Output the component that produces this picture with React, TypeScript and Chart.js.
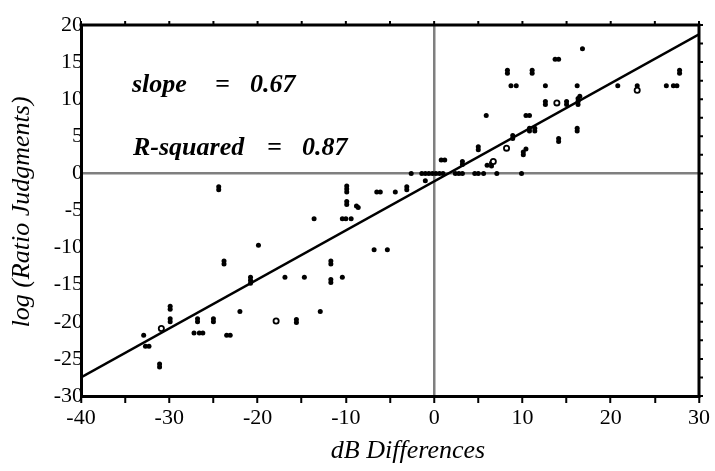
import React, { useEffect, useRef } from 'react';
import { Chart, registerables } from 'chart.js';

Chart.register(...registerables);

// ---- data ----
const xRange = [-40, 30];
const yRange = [-30, 20];
const xTopTicks = [-40, -35, -30, -25, -20, -15, -10, -5, 0, 5, 10, 15, 20, 25, 30];
const yRightTicks = [-30, -27.5, -25, -22.5, -20, -17.5, -15, -12.5, -10, -7.5, -5, -2.5, 0, 2.5, 5, 7.5, 10, 12.5, 15, 17.5, 20];

const lowerLeftPoints: [number, number][] = [
  [-32.9, -21.8],
  [-32.7, -23.3], [-32.3, -23.3],
  [-31.1, -25.7], [-31.1, -26.1],
  [-29.9, -17.9], [-29.9, -18.3],
  [-29.9, -19.6], [-29.9, -20.0],
  [-27.2, -21.5],
  [-26.8, -19.6], [-26.8, -20.0],
  [-26.6, -21.5], [-26.2, -21.5],
  [-25.0, -19.6], [-25.0, -20.0],
  [-23.8, -11.8], [-23.8, -12.2],
  [-23.5, -21.8], [-23.1, -21.8],
  [-22.0, -18.6],
  [-20.8, -14.0], [-20.8, -14.4], [-20.8, -14.8],
  [-19.9, -9.7],
  [-16.9, -14.0],
  [-15.6, -19.7], [-15.6, -20.1],
  [-14.7, -14.0],
  [-12.9, -18.6],
  [-11.7, -11.8], [-11.7, -12.2],
  [-11.7, -14.3], [-11.7, -14.7],
  [-10.4, -14.0],
  [-24.4, -1.8], [-24.4, -2.2],
];

const middlePoints: [number, number][] = [
  [-9.9, -1.7], [-9.9, -2.1], [-9.9, -2.5],
  [-9.9, -3.8], [-9.9, -4.2],
  [-8.8, -4.4], [-8.6, -4.6],
  [-13.6, -6.1],
  [-10.4, -6.1], [-10.0, -6.1], [-9.4, -6.1],
  [-6.8, -10.3], [-5.3, -10.3],
  [-6.5, -2.5], [-6.1, -2.5],
  [-4.4, -2.5],
  [-3.1, -1.8], [-3.1, -2.2],
  [-2.6, 0],
  [-1.0, -1.0],
  [-1.4, 0], [-1.0, 0], [-0.6, 0], [-0.2, 0], [0.2, 0], [0.6, 0], [1.0, 0],
  [0.8, 1.8], [1.2, 1.8],
  [2.4, 0], [2.8, 0], [3.2, 0],
  [3.2, 1.2], [3.2, 1.6],
  [4.6, 0], [5.0, 0],
  [5.6, 0],
  [7.1, 0],
  [9.9, 0],
  [5.0, 3.2], [5.0, 3.6],
  [5.9, 7.8],
  [6.0, 1.1],
  [6.5, 1.0], [6.5, 1.4],
  [8.9, 4.7], [8.9, 5.1],
  [10.1, 2.5], [10.1, 2.9], [10.4, 3.3],
  [10.4, 7.8], [10.8, 7.8],
  [10.8, 5.7], [10.8, 6.1], [11.4, 5.7], [11.4, 6.1],
];

const upperRightPoints: [number, number][] = [
  [16.8, 16.8],
  [13.7, 15.4], [14.1, 15.4],
  [8.3, 13.5], [8.3, 13.9],
  [11.1, 13.5], [11.1, 13.9],
  [8.7, 11.8], [9.3, 11.8],
  [12.6, 11.8],
  [16.2, 11.8],
  [20.8, 11.8],
  [23.0, 11.8],
  [26.3, 11.8],
  [27.1, 11.8], [27.5, 11.8],
  [27.8, 13.5], [27.8, 13.9],
  [12.6, 9.3], [12.6, 9.7],
  [15.0, 9.3], [15.0, 9.7],
  [16.3, 9.3], [16.3, 9.7], [16.3, 10.1], [16.5, 10.4],
  [16.2, 5.7], [16.2, 6.1],
  [14.1, 4.3], [14.1, 4.7],
];

const openPoints: [number, number][] = [
  [-30.9, -20.9],
  [-17.9, -19.9],
  [6.7, 1.6],
  [8.2, 3.4],
  [13.9, 9.5],
  [23.0, 11.2],
];

const fitLineX = [-40, 30];
const fitLineY = [-27.5, 18.75];

const slopeLabel = ['slope', '=', '0.67'];
const rSquaredLabel = ['R-squared', '=', '0.87'];
const xTitle = 'dB Differences';
const yTitle = 'log (Ratio Judgments)';

const SERIF = "'Liberation Serif', 'Times New Roman', serif";

const toXY = (arr: [number, number][]) => arr.map(([x, y]) => ({ x, y }));

const framePlugin = {
  id: 'frame',
  afterDatasetsDraw(chart: any) {
    const { ctx, chartArea, scales } = chart;
    const { left, right, top, bottom } = chartArea;
    const xs = scales.x;
    const ys = scales.y;
    ctx.save();
    ctx.strokeStyle = '#000';
    ctx.lineWidth = 3;
    ctx.beginPath();
    ctx.moveTo(left - 1.5, top);
    ctx.lineTo(right + 1.5, top);
    ctx.moveTo(right, top);
    ctx.lineTo(right, bottom + 1.5);
    ctx.stroke();

    ctx.lineWidth = 2;
    ctx.beginPath();
    xTopTicks.forEach((v) => {
      const px = xs.getPixelForValue(v);
      ctx.moveTo(px, top);
      ctx.lineTo(px, top - 4);
    });
    yRightTicks.forEach((v) => {
      const py = ys.getPixelForValue(v);
      ctx.moveTo(right, py);
      ctx.lineTo(right + 4, py);
    });
    ctx.stroke();

    // annotations
    ctx.fillStyle = '#000';
    ctx.font = `italic bold 26px ${SERIF}`;
    ctx.textBaseline = 'alphabetic';
    ctx.textAlign = 'left';
    ctx.fillText(slopeLabel[0], 132, 92);
    ctx.fillText(slopeLabel[1], 215, 92);
    ctx.fillText(slopeLabel[2], 250, 92);
    ctx.fillText(rSquaredLabel[0], 133, 155);
    ctx.fillText(rSquaredLabel[1], 267, 155);
    ctx.fillText(rSquaredLabel[2], 302, 155);

    // axis titles
    ctx.font = `italic 26px ${SERIF}`;
    ctx.textAlign = 'center';
    ctx.fillText(xTitle, 408, 458);
    ctx.save();
    ctx.translate(28.5, 212);
    ctx.rotate(-Math.PI / 2);
    ctx.fillText(yTitle, 0, 0);
    ctx.restore();
    ctx.restore();
  },
};

export default function App() {
  const ref = useRef<HTMLCanvasElement | null>(null);
  useEffect(() => {
    if (!ref.current) return;
    const zeroGrid = (c: any) => (c.tick && c.tick.value === 0 ? '#7f7f7f' : 'rgba(0,0,0,0)');
    const chart = new Chart(ref.current, {
      type: 'scatter',
      data: {
        datasets: [
          {
            type: 'line',
            data: fitLineX.map((x, i) => ({ x, y: fitLineY[i] })),
            borderColor: '#000',
            borderWidth: 2.5,
            pointRadius: 0,
            fill: false,
            order: 2,
          } as any,
          {
            data: toXY([...lowerLeftPoints, ...middlePoints, ...upperRightPoints]),
            backgroundColor: '#000',
            borderWidth: 0,
            pointRadius: 2.5,
            order: 1,
          },
          {
            data: toXY(openPoints),
            backgroundColor: '#fff',
            borderColor: '#000',
            borderWidth: 1.8,
            pointRadius: 2.6,
            order: 0,
          },
        ],
      },
      options: {
        responsive: false,
        animation: false,
        events: [],
        layout: { padding: { left: 0, top: 25, right: 16, bottom: 0 } },
        plugins: { legend: { display: false }, tooltip: { enabled: false } },
        scales: {
          x: {
            type: 'linear',
            min: xRange[0],
            max: xRange[1],
            afterFit: (s: any) => { s.height = 75; },
            border: { color: '#000', width: 3 },
            grid: {
              color: zeroGrid,
              lineWidth: 2.5,
              tickColor: '#000',
              tickWidth: 2,
              tickLength: 7,
            },
            ticks: {
              stepSize: 5,
              autoSkip: false,
              maxRotation: 0,
              padding: 2,
              color: '#000',
              font: { family: SERIF, size: 22 },
              callback: (v: any) => (Number(v) % 10 === 0 ? String(v) : ''),
            },
          },
          y: {
            type: 'linear',
            min: yRange[0],
            max: yRange[1],
            afterFit: (s: any) => { s.width = 81; },
            border: { color: '#000', width: 3 },
            grid: {
              color: zeroGrid,
              lineWidth: 2.5,
              drawTicks: false,
            },
            ticks: {
              stepSize: 5,
              autoSkip: false,
              padding: -2,
              color: '#000',
              font: { family: SERIF, size: 22 },
              callback: (v: any) => String(v),
            },
          },
        },
      },
      plugins: [framePlugin],
    });
    return () => chart.destroy();
  }, []);
  return (
    <div style={{ position: 'fixed', left: 0, top: 0, width: 715, height: 471, background: '#fff' }}>
      <canvas ref={ref} width={715} height={471} style={{ display: 'block' }} />
    </div>
  );
}
